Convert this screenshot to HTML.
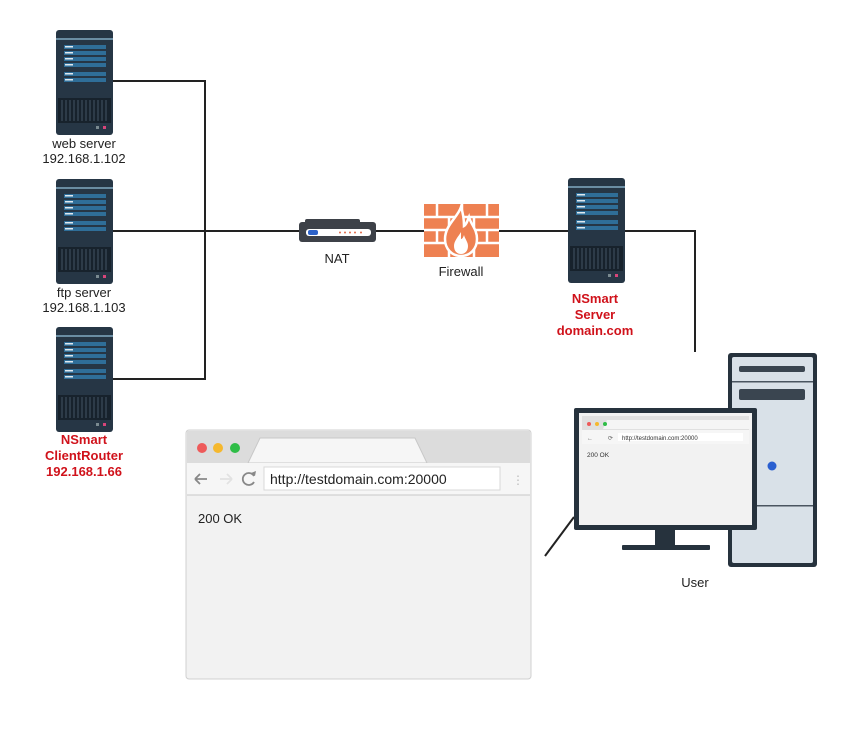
<!DOCTYPE html>
<html><head><meta charset="utf-8"><style>
html,body{margin:0;padding:0;background:#fff;width:854px;height:731px;overflow:hidden}
svg{display:block}
text{font-family:"Liberation Sans","DejaVu Sans",sans-serif}
</style></head><body>
<svg width="854" height="731" viewBox="0 0 854 731" xmlns="http://www.w3.org/2000/svg">
<defs>
<g id="srv">
<rect x="0" y="0" width="57" height="105" rx="3" fill="#263645"/>
<rect x="0" y="8" width="57" height="2" fill="#6a8da3"/>
<rect x="8" y="15" width="42" height="4" fill="#2f6e98"/>
<rect x="8" y="21" width="42" height="4" fill="#2f6e98"/>
<rect x="8" y="27" width="42" height="4" fill="#2f6e98"/>
<rect x="8" y="33" width="42" height="4" fill="#2f6e98"/>
<rect x="8" y="42" width="42" height="4" fill="#2f6e98"/>
<rect x="8" y="48" width="42" height="4" fill="#2f6e98"/>
<rect x="9" y="16" width="8" height="1.5" fill="#dfe9f0"/>
<rect x="9" y="22" width="8" height="1.5" fill="#dfe9f0"/>
<rect x="9" y="28" width="8" height="1.5" fill="#dfe9f0"/>
<rect x="9" y="34" width="8" height="1.5" fill="#dfe9f0"/>
<rect x="9" y="43" width="8" height="1.5" fill="#dfe9f0"/>
<rect x="9" y="49" width="8" height="1.5" fill="#dfe9f0"/>
<rect x="2" y="68" width="53" height="25" fill="#17222c"/>
<path d="M6 70v21M10 70v21M14 70v21M18 70v21M22 70v21M26 70v21M30 70v21M34 70v21M38 70v21M42 70v21M46 70v21M50 70v21" stroke="#3c4c5a" stroke-width="1.2"/>
<rect x="40" y="96" width="3" height="3" fill="#7a8a90"/>
<rect x="47" y="96" width="3" height="3" fill="#d8457a"/>
</g>
</defs>
<g stroke="#222" stroke-width="2" fill="none">
<path d="M113 81H205V379H113"/>
<path d="M113 231H300"/>
<path d="M375 231H425"/>
<path d="M498 231H568"/>
<path d="M623 231H695V352"/>
<path d="M545 556L574 517"/>
</g>
<use href="#srv" x="56" y="30"/>
<use href="#srv" x="56" y="179"/>
<use href="#srv" x="56" y="327"/>
<use href="#srv" x="568" y="178"/>
<g font-size="13" fill="#222" text-anchor="middle">
<text x="84" y="148">web server</text>
<text x="84" y="163">192.168.1.102</text>
<text x="84" y="297">ftp server</text>
<text x="84" y="312">192.168.1.103</text>
<text x="337" y="263">NAT</text>
<text x="461" y="276">Firewall</text>
<text x="695" y="587">User</text>
</g>
<g font-size="13" font-weight="bold" fill="#d0121b" text-anchor="middle">
<text x="84" y="444">NSmart</text>
<text x="84" y="460">ClientRouter</text>
<text x="84" y="476">192.168.1.66</text>
<text x="595" y="303">NSmart</text>
<text x="595" y="319">Server</text>
<text x="595" y="335">domain.com</text>
</g>
<rect x="299" y="222" width="77" height="20" rx="3" fill="#3d4148"/>
<rect x="305" y="219" width="55" height="5" rx="2" fill="#3d4148"/>
<rect x="306" y="229" width="65" height="7" rx="3" fill="#fff"/>
<rect x="308" y="230" width="10" height="5" rx="2" fill="#2d62c8"/>
<g fill="#e06a4a"><circle cx="340" cy="232.5" r="1"/><circle cx="345" cy="232.5" r="1"/><circle cx="350" cy="232.5" r="1"/><circle cx="355" cy="232.5" r="1"/><circle cx="361" cy="232.5" r="1"/></g>
<rect x="424" y="204" width="75" height="53" fill="#ee8152"/>
<g stroke="#fff" stroke-width="2.5">
<path d="M424 217H499M424 230H499M424 243H499"/>
<path d="M437 204v13M462 204v13M487 204v13M449 217v13M474 217v13M437 230v13M462 230v13M487 230v13M449 243v14M474 243v14"/>
</g>
<path d="M461 207c-3 10-16 18-16 32c0 10 7 17 16 17c9 0 16-7 16-17c0-10-6-14-8-22c-2 5-3 8-5 9c0-8-1-13-3-19z" fill="#ee8152" stroke="#fff" stroke-width="2.5"/>
<path d="M461 232c-3 5-7 9-7 14c0 5 3 8 7 8c4 0 7-3 7-8c0-4-3-7-4-11c-1 3-2 4-3 4z" fill="#fff"/>
<rect x="186" y="430" width="345" height="249" rx="3" fill="#f2f2f2" stroke="#d0d0d0"/>
<path d="M187 431h343v33H187z" fill="#dcdcdc"/>
<path d="M248 463l12-25h155l12 25z" fill="#f6f6f6" stroke="#c8c8c8"/>
<rect x="187" y="463" width="343" height="32" fill="#f6f6f6"/>
<line x1="187" y1="495" x2="530" y2="495" stroke="#c8c8c8"/>
<circle cx="202" cy="448" r="5" fill="#ee5a5a"/><circle cx="218" cy="448" r="5" fill="#f5b82e"/><circle cx="235" cy="448" r="5" fill="#2fbd47"/>
<path d="M195 479h12M195 479l5-5M195 479l5 5" stroke="#888" stroke-width="1.8" fill="none"/>
<path d="M220 479h12M232 479l-5-5M232 479l-5 5" stroke="#e2e2e2" stroke-width="1.8" fill="none"/>
<path d="M254 476a6 6 0 1 0 0 6" stroke="#888" stroke-width="1.8" fill="none"/>
<path d="M251 473l4 3l1-5z" fill="#888"/>
<rect x="264" y="467" width="236" height="23" fill="#fff" stroke="#d8d8d8"/>
<text x="270" y="484" font-size="14" fill="#222">http://testdomain.com:20000</text>
<text x="512" y="484" font-size="12" fill="#bbb">⋮</text>
<text x="198" y="523" font-size="13" fill="#222">200 OK</text>
<rect x="728" y="353" width="89" height="214" rx="3" fill="#26323d"/>
<rect x="732" y="357" width="81" height="206" rx="2" fill="#d9e1e8"/>
<rect x="732" y="381" width="81" height="1.5" fill="#4a5560"/>
<rect x="732" y="505" width="81" height="1.5" fill="#4a5560"/>
<rect x="739" y="366" width="66" height="6" rx="2" fill="#3a4550"/>
<rect x="739" y="389" width="66" height="11" rx="2" fill="#3a4550"/>
<circle cx="772" cy="466" r="4.5" fill="#2a5fd0"/>
<rect x="574" y="408" width="183" height="122" rx="2" fill="#26323d"/>
<rect x="579" y="413" width="173" height="112" fill="#f2f2f2"/>
<rect x="582" y="416" width="167" height="14" fill="#e0e0e0"/>
<path d="M603 429l4-9h145v9z" fill="#f5f5f5"/>
<circle cx="589" cy="424" r="2" fill="#ee5a5a"/><circle cx="597" cy="424" r="2" fill="#f5b82e"/><circle cx="605" cy="424" r="2" fill="#2fbd47"/>
<rect x="582" y="430" width="167" height="14" fill="#f6f6f6"/>
<rect x="618" y="433" width="125" height="8" fill="#fff"/>
<text x="587" y="440" font-size="6" fill="#666">←</text>
<text x="608" y="440" font-size="6" fill="#666">⟳</text>
<text x="622" y="440" font-size="6" fill="#333">http://testdomain.com:20000</text>
<text x="587" y="457" font-size="6.5" fill="#333">200 OK</text>
<rect x="655" y="530" width="20" height="15" fill="#26323d"/>
<rect x="622" y="545" width="88" height="5" rx="1" fill="#26323d"/>
</svg>
</body></html>
